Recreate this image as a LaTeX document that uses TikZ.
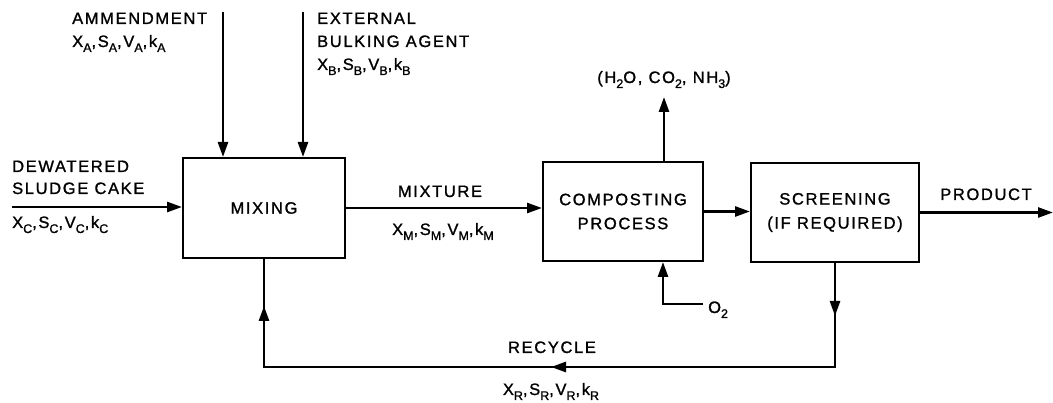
\documentclass[tikz,border=0pt]{standalone}
\usepackage{fontspec}
\setmainfont{Liberation Sans}[LetterSpace=10,FakeBold=1.2]
\usetikzlibrary{arrows.meta,decorations.markings}
\newcommand\sbx[1]{\raisebox{-5pt}{\fontsize{12.5}{12.5}\selectfont #1}}
\begin{document}
\begin{tikzpicture}[x=1pt,y=-1pt,
  lbl/.style={font=\fontsize{16.5}{23}\selectfont, inner sep=0pt},
  box/.style={draw, line width=2pt, font=\fontsize{16.5}{22}\selectfont, align=center, inner sep=0pt},
  tipA/.tip={Triangle[length=15pt,width=10pt]},
  arr/.style={line width=2.6pt, -tipA},
  recyc/.style={line width=2.6pt, postaction={decorate},
    decoration={markings,
      mark=at position 53pt with {\arrow{tipA}},
      mark=at position 388pt with {\arrow{tipA}},
      mark=at position 736pt with {\arrow{tipA}}}}]
\useasboundingbox (0,0) rectangle (1053,403);

% boxes
\node[box, minimum width=162pt, minimum height=100pt] (mix) at (264,208) {MIXING};
\node[box, minimum width=160pt, minimum height=99pt] (comp) at (623,211.5) {COMPOSTING\\[2pt]PROCESS};
\node[box, minimum width=168pt, minimum height=99pt] (scr) at (835,212.5) {SCREENING\\[2pt](IF REQUIRED)};

% labels
\node[lbl, anchor=base west] (amd1) at (72,24) {AMMENDMENT};
\node[lbl, anchor=base west] (amd2) at (72,47) {X\sbx{A},S\sbx{A},V\sbx{A},k\sbx{A}};
\node[lbl, anchor=base west] (ext1) at (317,24) {EXTERNAL};
\node[lbl, anchor=base west] (ext2) at (317,47) {BULKING AGENT};
\node[lbl, anchor=base west] (ext3) at (317,70) {X\sbx{B},S\sbx{B},V\sbx{B},k\sbx{B}};
\node[lbl, anchor=base west] (dw1) at (12,172) {DEWATERED};
\node[lbl, anchor=base west] (dw2) at (12,194) {SLUDGE CAKE};
\node[lbl, anchor=base west] (dw3) at (12,228) {X\sbx{C},S\sbx{C},V\sbx{C},k\sbx{C}};
\node[lbl, anchor=base] (mxt) at (440,197) {MIXTURE};
\node[lbl, anchor=base] (mxv) at (443,235) {X\sbx{M},S\sbx{M},V\sbx{M},k\sbx{M}};
\node[lbl, anchor=base] (gas) at (664,83) {(H\sbx{2}O, CO\sbx{2}, NH\sbx{3})};
\node[lbl, anchor=base] (prod) at (986,200) {PRODUCT};
\node[lbl, anchor=base] (rec) at (552,353) {RECYCLE};
\node[lbl, anchor=base] (recv) at (551,395) {X\sbx{R},S\sbx{R},V\sbx{R},k\sbx{R}};
\node[lbl, anchor=base west] (o2) at (708,313) {O\sbx{2}};

% coordinates
\coordinate (amdT) at (223,12);
\coordinate (extT) at (303,12);
\coordinate (dwS) at (12,207);
\coordinate (emis) at (664,97);
\coordinate (prodE) at (1053,211);
\coordinate (o2k) at (663,304);
\coordinate (recY) at (0,367);

% connectors
\draw[arr] (amdT) -- (amdT |- mix.north);
\draw[arr] (extT) -- (extT |- mix.north);
\draw[arr] (dwS) -- (dwS -| mix.west);
\draw[arr] (mix.east) -- (mix.east -| comp.west);
\draw[arr] (comp.east) -- (comp.east -| scr.west);
\draw[arr] (scr.east) -- (scr.east -| prodE);
\draw[arr] (emis |- comp.north) -- (emis);
\draw[arr] (o2k -| o2.west) ++(-5pt,0) -- (o2k) -- (o2k |- comp.south);
\draw[recyc] (scr.south) -- (scr.south |- recY) -- (mix.south |- recY) -- (mix.south);
\end{tikzpicture}
\end{document}
